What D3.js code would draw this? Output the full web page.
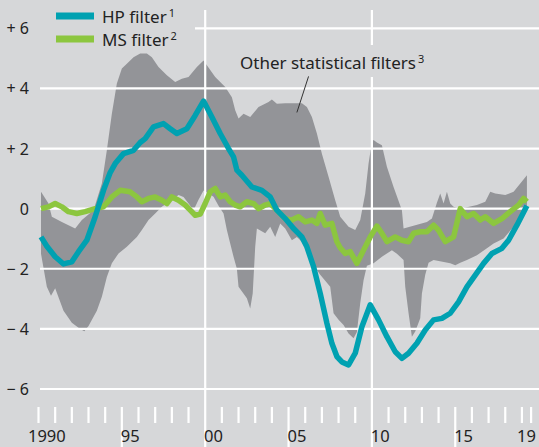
<!DOCTYPE html>
<html>
<head>
<meta charset="utf-8">
<script src="https://cdn.jsdelivr.net/npm/d3@7"></script>
<style>
  body { margin: 0; background: #d6d7d9; }
  svg { display: block; font-family: "Noto Sans", "Open Sans", sans-serif; }
</style>
</head>
<body>
<div id="chart"></div>
<script>
// constants for page set up
const FRAME_WIDTH = 539;
const FRAME_HEIGHT = 447;

// values: [year, percent]
const HP_FILTER = [
  [1990.15, -0.94], [1990.5, -1.25], [1991.0, -1.6], [1991.5, -1.84], [1992.0, -1.77],
  [1992.4, -1.43], [1992.9, -1.05], [1993.4, -0.27], [1993.9, 0.61], [1994.3, 1.2],
  [1994.6, 1.5], [1995.1, 1.83], [1995.7, 1.94], [1996.1, 2.2], [1996.4, 2.33],
  [1996.9, 2.72], [1997.5, 2.83], [1997.9, 2.66], [1998.3, 2.5], [1998.9, 2.66],
  [1999.4, 3.1], [1999.9, 3.58], [2000.4, 3.05], [2000.9, 2.5], [2001.4, 2.0],
  [2001.7, 1.72], [2001.9, 1.28], [2002.2, 1.11], [2002.8, 0.72], [2003.4, 0.61],
  [2003.9, 0.39], [2004.3, -0.05], [2004.8, -0.33], [2005.3, -0.66], [2005.8, -0.94],
  [2006.1, -1.27], [2006.5, -1.93], [2006.9, -2.82], [2007.3, -3.81], [2007.6, -4.48],
  [2007.9, -4.92], [2008.2, -5.1], [2008.6, -5.2], [2009.0, -4.81], [2009.4, -3.93],
  [2009.9, -3.2], [2010.4, -3.7], [2010.9, -4.26], [2011.4, -4.76], [2011.8, -4.98],
  [2012.2, -4.81], [2012.7, -4.48], [2013.2, -4.04], [2013.7, -3.7], [2014.2, -3.65],
  [2014.7, -3.48], [2015.2, -3.1], [2015.7, -2.6], [2016.2, -2.21], [2016.7, -1.82],
  [2017.2, -1.49], [2017.8, -1.32], [2018.2, -1.05], [2018.7, -0.55], [2019.3, 0.1]
];

const MS_FILTER = [
  [1990.15, 0.0], [1990.6, 0.06], [1991.0, 0.17], [1991.4, 0.06], [1991.8, -0.1],
  [1992.3, -0.16], [1992.8, -0.1], [1993.4, 0.0], [1993.9, 0.06], [1994.4, 0.39],
  [1994.9, 0.61], [1995.5, 0.56], [1995.9, 0.39], [1996.2, 0.23], [1996.6, 0.34],
  [1997.0, 0.39], [1997.4, 0.28], [1997.7, 0.17], [1998.0, 0.39], [1998.4, 0.28],
  [1998.8, 0.12], [1999.1, -0.05], [1999.4, -0.22], [1999.7, -0.18], [2000.0, 0.17],
  [2000.3, 0.56], [2000.6, 0.67], [2000.9, 0.39], [2001.2, 0.45], [2001.5, 0.23],
  [2001.8, 0.12], [2002.1, 0.06], [2002.5, 0.23], [2002.9, 0.17], [2003.2, 0.0],
  [2003.6, 0.12], [2003.9, 0.17], [2004.3, -0.05], [2004.8, -0.33], [2005.2, -0.38],
  [2005.6, -0.27], [2006.0, -0.44], [2006.4, -0.38], [2006.7, -0.49], [2006.9, -0.16],
  [2007.2, -0.55], [2007.6, -0.49], [2007.9, -1.1], [2008.1, -1.3], [2008.4, -1.49],
  [2008.7, -1.43], [2009.1, -1.82], [2009.5, -1.38], [2009.9, -0.94], [2010.3, -0.58],
  [2010.6, -0.82], [2010.9, -1.1], [2011.4, -0.94], [2011.8, -1.05], [2012.2, -1.1],
  [2012.5, -0.82], [2012.9, -0.77], [2013.3, -0.77], [2013.7, -0.55], [2014.0, -0.72],
  [2014.4, -1.1], [2014.9, -0.94], [2015.3, 0.0], [2015.7, -0.27], [2016.1, -0.16],
  [2016.5, -0.38], [2016.8, -0.27], [2017.3, -0.49], [2017.8, -0.33], [2018.3, -0.1],
  [2018.8, 0.12], [2019.1, 0.34], [2019.3, 0.23]
];

// range of the other statistical filters
const BAND_UPPER = [
  [1990.15, 0.56], [1990.6, 0.17], [1990.8, -0.27], [1991.4, -0.44], [1992.2, -0.66],
  [1992.6, -0.38], [1993.3, -0.05], [1993.8, 0.84], [1994.1, 1.94], [1994.4, 3.16],
  [1994.7, 4.16], [1995.0, 4.66], [1995.3, 4.82], [1995.7, 5.04], [1996.1, 5.16],
  [1996.5, 5.16], [1996.8, 5.04], [1997.2, 4.71], [1997.7, 4.44], [1998.2, 4.21],
  [1998.6, 4.32], [1999.0, 4.38], [1999.5, 4.71], [1999.9, 4.93], [2000.1, 4.77],
  [2000.6, 4.38], [2001.2, 4.05], [2001.6, 3.71], [2001.8, 3.27], [2002.0, 3.0],
  [2002.3, 3.16], [2002.7, 3.05], [2003.2, 3.38], [2003.8, 3.55], [2004.0, 3.63],
  [2004.3, 3.49], [2004.8, 3.51], [2005.4, 3.51], [2005.8, 3.51], [2006.1, 3.38],
  [2006.4, 3.05], [2006.7, 2.5], [2007.0, 1.83], [2007.4, 1.06], [2007.8, 0.28],
  [2008.1, -0.27], [2008.6, -0.6], [2009.0, -0.71], [2009.3, -0.38], [2009.6, 0.5],
  [2009.8, 1.5], [2010.0, 2.22], [2010.1, 2.28], [2010.3, 2.2], [2010.6, 2.11],
  [2010.9, 1.39], [2011.3, 0.72], [2011.8, -0.05], [2011.9, -0.66], [2012.6, -0.55],
  [2013.3, -0.44], [2013.6, -0.33], [2013.9, 0.2], [2014.1, 0.5], [2014.3, 0.17],
  [2014.5, 0.56], [2014.7, 0.17], [2014.9, 0.06], [2015.3, 0.0], [2016.3, 0.12],
  [2016.8, 0.23], [2017.1, 0.56], [2017.4, 0.5], [2018.0, 0.45], [2018.5, 0.56],
  [2018.9, 0.84], [2019.3, 1.11]
];

const BAND_LOWER = [
  [1990.15, -1.5], [1990.5, -2.6], [1990.75, -2.9], [1991.0, -2.65], [1991.5, -3.4],
  [1992.0, -3.8], [1992.5, -4.0], [1992.75, -4.08], [1993.0, -3.9], [1993.5, -3.4],
  [1993.8, -2.93], [1994.1, -2.27], [1994.4, -1.82], [1994.8, -1.49], [1995.3, -1.27],
  [1995.9, -0.94], [1996.2, -0.71], [1996.6, -0.38], [1997.0, -0.16], [1997.4, 0.06],
  [1998.0, 0.28], [1998.4, 0.45], [1998.7, 0.39], [1999.0, 0.17], [1999.3, -0.05],
  [1999.6, 0.3], [1999.9, 0.6], [2000.2, 0.5], [2000.5, 0.4], [2000.8, 0.1],
  [2001.1, -0.16], [2001.3, -0.71], [2001.5, -1.16], [2001.7, -1.6], [2001.9, -2.0],
  [2002.0, -2.6], [2002.5, -2.98], [2002.7, -3.32], [2002.85, -2.82], [2003.0, -1.27],
  [2003.1, -0.66], [2003.6, -0.82], [2003.9, -0.6], [2004.2, -0.94], [2004.5, -0.49],
  [2004.8, -0.66], [2005.2, -1.05], [2005.5, -0.94], [2005.8, -1.1], [2006.1, -1.4],
  [2006.4, -1.75], [2006.7, -2.04], [2006.9, -2.2], [2007.2, -2.4], [2007.5, -2.6],
  [2007.7, -3.48], [2008.0, -3.7], [2008.3, -3.87], [2008.6, -4.15], [2008.9, -4.31],
  [2009.1, -4.1], [2009.3, -3.15], [2009.5, -2.38], [2009.7, -1.9], [2010.1, -1.82],
  [2010.6, -1.6], [2011.2, -1.38], [2011.5, -1.5], [2011.9, -1.71], [2012.0, -2.6],
  [2012.2, -3.48], [2012.4, -4.26], [2012.6, -4.09], [2012.9, -3.65], [2013.0, -2.82],
  [2013.2, -2.2], [2013.4, -1.8], [2013.7, -1.71], [2014.7, -1.82], [2015.0, -1.88],
  [2015.3, -1.8], [2015.7, -1.71], [2016.3, -1.55], [2016.9, -1.32], [2017.3, -1.16],
  [2017.9, -0.99], [2018.5, -0.6], [2019.0, -0.27], [2019.3, -0.05]
];

const Y_TICKS = [6, 4, 2, 0, -2, -4, -6];
const YEAR_TICKS = d3.range(1990, 2020);
const AXIS_END = 2019.55;
const LABEL_YEARS = [1990, 1995, 2000, 2005, 2010, 2015, 2019];
const LABEL_TEXT = ["1990", "95", "00", "05", "10", "15", "19"];
const FULL_LINES = [2000, 2010];
const MAJOR_TICKS = [1995, 2005, 2015];

const COLORS = { bg: "#d6d7d9", band: "#939498", hp: "#00a1b1", ms: "#8cc63f", text: "#222" };

// scales
const X_SCALE = d3.scaleLinear().domain([1990, 2020]).range([38.5, 538.6]);
const Y_SCALE = d3.scaleLinear().domain([-6, 6]).range([389, 28.3]);

const FRAME = d3.select("#chart")
  .append("svg")
  .attr("width", FRAME_WIDTH)
  .attr("height", FRAME_HEIGHT);

FRAME.append("rect")
  .attr("width", FRAME_WIDTH)
  .attr("height", FRAME_HEIGHT)
  .attr("fill", COLORS.bg);

// band of other filters: upper edge forward, lower edge back
const line = d3.line()
  .x((d) => X_SCALE(d[0]))
  .y((d) => Y_SCALE(d[1]));

FRAME.append("path")
  .attr("d", line(BAND_UPPER.concat(BAND_LOWER.slice().reverse())) + "Z")
  .attr("fill", COLORS.band);

// horizontal grid
FRAME.selectAll(".grid")
  .data(Y_TICKS)
  .enter()
  .append("line")
  .attr("x1", X_SCALE(1990) + 1.5)
  .attr("x2", FRAME_WIDTH)
  .attr("y1", (d) => Y_SCALE(d))
  .attr("y2", (d) => Y_SCALE(d))
  .attr("stroke", "white")
  .attr("stroke-width", 2.2);

// full height lines at 2000 and 2010
FRAME.selectAll(".vline")
  .data(FULL_LINES)
  .enter()
  .append("line")
  .attr("x1", (d) => X_SCALE(d))
  .attr("x2", (d) => X_SCALE(d))
  .attr("y1", 10)
  .attr("y2", FRAME_HEIGHT)
  .attr("stroke", "white")
  .attr("stroke-width", 2.2);

// year ticks
const tickYears = YEAR_TICKS.filter((d) => !FULL_LINES.includes(d)).concat([AXIS_END]);
FRAME.selectAll(".tick")
  .data(tickYears)
  .enter()
  .append("line")
  .attr("x1", (d) => X_SCALE(d))
  .attr("x2", (d) => X_SCALE(d))
  .attr("y1", 407)
  .attr("y2", (d) => MAJOR_TICKS.includes(d) ? FRAME_HEIGHT : 423)
  .attr("stroke", "white")
  .attr("stroke-width", 2.2);

// year labels, centred in their year
FRAME.selectAll(".xlabel")
  .data(LABEL_YEARS)
  .enter()
  .append("text")
  .attr("x", (d) => (X_SCALE(d) + X_SCALE(Math.min(d + 1, AXIS_END))) / 2)
  .attr("y", 442)
  .attr("text-anchor", "middle")
  .attr("font-size", "16.5px")
  .attr("fill", COLORS.text)
  .text((d, i) => LABEL_TEXT[i]);

// y labels
FRAME.selectAll(".ylabel")
  .data(Y_TICKS)
  .enter()
  .append("text")
  .attr("x", 29)
  .attr("y", (d) => Y_SCALE(d) + 6)
  .attr("text-anchor", "end")
  .attr("font-size", "16px")
  .attr("fill", COLORS.text)
  .text((d) => d > 0 ? "+ " + d : (d < 0 ? "\u2212 " + (-d) : "0"));

// lines
FRAME.append("path")
  .attr("d", line(MS_FILTER))
  .attr("fill", "none")
  .attr("stroke", COLORS.ms)
  .attr("stroke-width", 5.5)
  .attr("stroke-linejoin", "round");

FRAME.append("path")
  .attr("d", line(HP_FILTER))
  .attr("fill", "none")
  .attr("stroke", COLORS.hp)
  .attr("stroke-width", 5.5)
  .attr("stroke-linejoin", "round");

// legend (its box hides the grid behind it)
FRAME.append("rect")
  .attr("x", 34).attr("y", 0)
  .attr("width", 161).attr("height", 50)
  .attr("fill", COLORS.bg);

const LEGEND = [
  { label: "HP filter", note: "1", color: COLORS.hp, y: 16 },
  { label: "MS filter", note: "2", color: COLORS.ms, y: 39 }
];

LEGEND.forEach((d) => {
  FRAME.append("line")
    .attr("x1", 56).attr("x2", 94)
    .attr("y1", d.y).attr("y2", d.y)
    .attr("stroke", d.color)
    .attr("stroke-width", 7);
  const t = FRAME.append("text")
    .attr("x", 102)
    .attr("y", d.y + 7)
    .attr("font-size", "17px")
    .attr("fill", COLORS.text)
    .text(d.label);
  t.append("tspan")
    .attr("dx", 2)
    .attr("dy", -6)
    .attr("font-size", "11px")
    .text(d.note);
});

// annotation for the band
const noteText = FRAME.append("text")
  .attr("x", 240)
  .attr("y", 69)
  .attr("font-size", "17px")
  .attr("fill", COLORS.text)
  .text("Other statistical filters");
const bb = noteText.node().getBBox();
FRAME.insert("rect", "text")
  .attr("x", bb.x - 3).attr("y", 45)
  .attr("width", bb.width + 18).attr("height", 32)
  .attr("fill", COLORS.bg);
noteText.append("tspan")
  .attr("dx", 2)
  .attr("dy", -6)
  .attr("font-size", "11px")
  .text("3");

FRAME.append("line")
  .attr("x1", X_SCALE(2006.2)).attr("y1", Y_SCALE(4.4))
  .attr("x2", X_SCALE(2005.5)).attr("y2", Y_SCALE(3.2))
  .attr("stroke", "#333")
  .attr("stroke-width", 1);
</script>
</body>
</html>
